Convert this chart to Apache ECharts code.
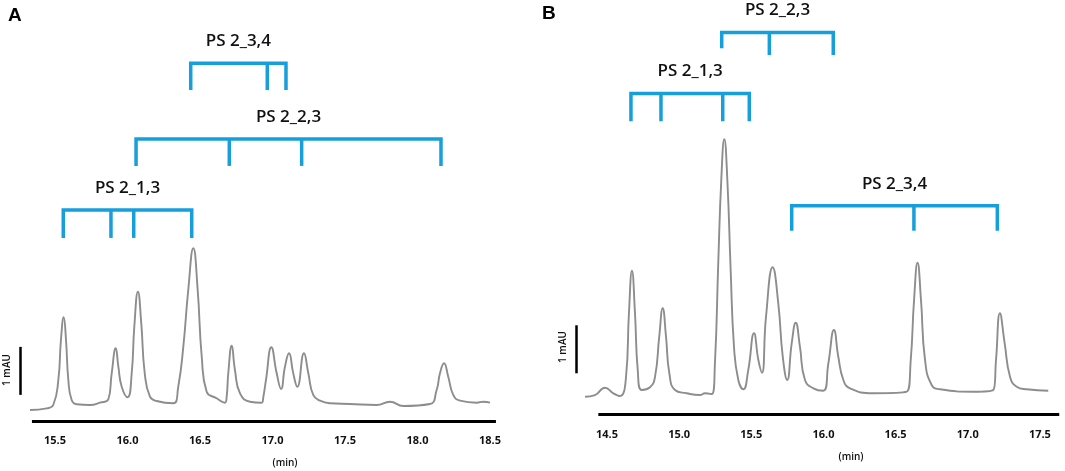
<!DOCTYPE html>
<html>
<head>
<meta charset="utf-8">
<script src="https://cdn.jsdelivr.net/npm/echarts@6/dist/echarts.min.js"></script>
<style>
  html, body { margin: 0; padding: 0; background: #fff; }
  #chart { width: 1065px; height: 471px; }
</style>
</head>
<body>
<div id="chart"></div>
<script>
// trace A: [time (min), signal (mAU)]
const traceA = [
  [15.328, -0.125], [15.443, -0.090], [15.488, -0.021], [15.523, 0.5], [15.541, 1.333],
  [15.560, 1.806], [15.576, 1.333], [15.592, 0.5], [15.615, 0.083], [15.650, -0.006],
  [15.741, -0.021], [15.810, 0.027], [15.868, 0.098], [15.891, 0.640], [15.919, 1.160],
  [15.937, 0.777], [15.960, 0.360], [16.001, 0.140], [16.029, 0.640], [16.047, 1.610],
  [16.072, 2.340], [16.095, 1.681], [16.119, 0.640], [16.155, 0.152], [16.201, 0.063],
  [16.316, 0.015], [16.350, 0.360], [16.385, 1.194], [16.419, 2.375], [16.454, 3.244],
  [16.484, 2.375], [16.512, 0.985], [16.546, 0.256], [16.615, 0.119], [16.672, 0.027],
  [16.684, 0.152], [16.695, 0.640], [16.719, 1.215], [16.741, 0.708], [16.776, 0.223],
  [16.845, 0.048], [16.926, 0.027], [16.937, 0.152], [16.955, 0.5], [16.992, 1.181],
  [17.029, 0.640], [17.059, 0.313], [17.086, 0.777], [17.114, 1.056], [17.143, 0.640],
  [17.171, 0.360], [17.217, 1.056], [17.247, 0.640], [17.281, 0.188], [17.328, 0.069],
  [17.397, 0.015], [17.534, 0], [17.719, -0.021], [17.810, 0.048], [17.902, -0.042],
  [18.086, 0], [18.132, 0.292], [18.155, 0.640], [18.183, 0.848], [18.212, 0.569],
  [18.247, 0.188], [18.293, 0.069], [18.408, 0.027], [18.454, 0.048], [18.500, 0.027]
];

// trace B
const traceB = [
  [14.348, -0.098], [14.417, -0.063], [14.486, 0.090], [14.544, -0.027], [14.590, -0.083],
  [14.632, 0.319], [14.652, 1.640], [14.673, 2.527], [14.694, 1.640], [14.713, 0.458],
  [14.740, 0.042], [14.798, 0.098], [14.833, 0.319], [14.862, 1.152], [14.886, 1.744],
  [14.909, 1.152], [14.932, 0.390], [14.971, 0.042], [15.052, -0.027], [15.144, -0.063],
  [15.179, -0.027], [15.226, -0.042], [15.248, 0.598], [15.271, 2.681], [15.292, 4.417],
  [15.313, 5.265], [15.334, 4.417], [15.357, 2.542], [15.380, 0.944], [15.410, 0.25],
  [15.445, 0.056], [15.479, 0.458], [15.519, 1.223], [15.549, 0.667], [15.574, 0.402],
  [15.602, 1.569], [15.648, 2.598], [15.687, 1.848], [15.718, 0.735], [15.749, 0.25],
  [15.780, 1.015], [15.808, 1.444], [15.837, 0.944], [15.872, 0.25], [15.930, 0.077],
  [15.999, 0.027], [16.034, 0.598], [16.073, 1.292], [16.103, 0.735], [16.138, 0.25],
  [16.184, 0.077], [16.345, -0.027], [16.577, 0.006], [16.605, 0.667], [16.628, 1.917],
  [16.652, 2.694], [16.676, 1.917], [16.704, 0.667], [16.750, 0.146], [16.808, 0.056],
  [17.038, 0.006], [17.177, 0.042], [17.196, 0.667], [17.223, 1.640], [17.256, 1.015],
  [17.293, 0.319], [17.339, 0.110], [17.408, 0.056], [17.558, 0.027]
];

// peak assignment brackets (retention times of the marked peaks)
const bracketNames = ['PS 2_1,3', 'PS 2_2,3', 'PS 2_3,4'];
const ticksA_13 = [15.557, 15.886, 16.043, 16.443];
const ticksA_23 = [16.059, 16.702, 17.201, 18.162];
const ticksA_34 = [16.436, 16.964, 17.093];
const ticksB_13 = [14.666, 14.874, 15.302, 15.486];
const ticksB_23 = [15.295, 15.625, 16.068];
const ticksB_34 = [15.780, 16.627, 17.205];

const xLabelsA = [15.5, 16.0, 16.5, 17.0, 17.5, 18.0, 18.5];
const xLabelsB = [14.5, 15.0, 15.5, 16.0, 16.5, 17.0, 17.5];

// layout (bracket heights in mAU, drop = tick length)
const bracketsA = [
  { name: bracketNames[0], ticks: ticksA_13, level: 4.04, drop: 0.58 },
  { name: bracketNames[1], ticks: ticksA_23, level: 5.52, drop: 0.56 },
  { name: bracketNames[2], ticks: ticksA_34, level: 7.10, drop: 0.56 }
];
const bracketsB = [
  { name: bracketNames[0], ticks: ticksB_13, level: 6.22, drop: 0.58 },
  { name: bracketNames[1], ticks: ticksB_23, level: 7.49, drop: 0.47, firstDrop: 0.33 },
  { name: bracketNames[2], ticks: ticksB_34, level: 3.88, drop: 0.52 }
];

const BLUE = '#179fdc';
const GREY = '#8d8d8d';

function bracketSeries(list, idx) {
  return {
    type: 'custom',
    xAxisIndex: idx,
    yAxisIndex: idx,
    silent: true,
    clip: false,
    data: list.map(b => [b.ticks[0], b.level]),
    renderItem: function(params, api) {
      let b = list[params.dataIndex];
      let n = b.ticks.length;
      let first = b.firstDrop != null ? b.firstDrop : b.drop;
      let p0 = api.coord([b.ticks[0], b.level - first]);
      let p1 = api.coord([b.ticks[0], b.level]);
      let p2 = api.coord([b.ticks[n - 1], b.level]);
      let p3 = api.coord([b.ticks[n - 1], b.level - b.drop]);
      let lineStyle = { stroke: BLUE, lineWidth: 3.5, fill: null };
      let children = [
        { type: 'polyline', shape: { points: [p0, p1, p2, p3] }, style: lineStyle }
      ];
      for (let i = 1; i < n - 1; i++) {
        let a = api.coord([b.ticks[i], b.level]);
        let c = api.coord([b.ticks[i], b.level - b.drop]);
        children.push({ type: 'line', shape: { x1: a[0], y1: a[1], x2: c[0], y2: c[1] }, style: lineStyle });
      }
      children.push({
        type: 'text',
        x: (p1[0] + p2[0]) / 2,
        y: p1[1] - 22,
        style: {
          text: b.name,
          font: '600 17px "Open Sans"',
          fill: '#111',
          align: 'center',
          verticalAlign: 'middle'
        }
      });
      return { type: 'group', children: children };
    }
  };
}

// axis bar and 1 mAU scale bar for each panel
function traceSeries(data, idx, bar, scale) {
  return {
    type: 'line',
    xAxisIndex: idx,
    yAxisIndex: idx,
    data: data,
    smooth: 0.5,
    showSymbol: false,
    silent: true,
    lineStyle: { color: GREY, width: 1.9 },
    markLine: {
      silent: true,
      symbol: 'none',
      label: { show: false },
      lineStyle: { color: '#000', type: 'solid' },
      data: [
        [{ coord: [bar[0], bar[2]], lineStyle: { width: 3 } }, { coord: [bar[1], bar[2]] }],
        [{ coord: [scale[0], scale[1]], lineStyle: { width: 2.5 } }, { coord: [scale[0], scale[1] + 1] }]
      ]
    }
  };
}

const chart = echarts.init(document.getElementById('chart'));

const xLabelStyle = {
  fontFamily: 'Open Sans',
  fontWeight: 'bold',
  fontSize: 11,
  color: '#111'
};

const option = {
  animation: false,
  backgroundColor: '#fff',
  grid: [
    { left: 10, top: 0, width: 486, height: 425 },
    { left: 560, top: 0, width: 499.3, height: 425 }
  ],
  xAxis: [
    {
      type: 'value', gridIndex: 0, min: 15.1897, max: 18.5414,
      splitLine: { show: false }, axisLine: { show: false }, axisTick: { show: false },
      axisLabel: Object.assign({ customValues: xLabelsA, margin: 10, formatter: v => v.toFixed(1) }, xLabelStyle)
    },
    {
      type: 'value', gridIndex: 1, min: 14.1743, max: 17.6345,
      splitLine: { show: false }, axisLine: { show: false }, axisTick: { show: false },
      axisLabel: Object.assign({ customValues: xLabelsB, margin: 4, formatter: v => v.toFixed(1) }, xLabelStyle)
    }
  ],
  yAxis: [
    { type: 'value', gridIndex: 0, min: -0.4375, max: 8.4167, show: false },
    { type: 'value', gridIndex: 1, min: -0.6875, max: 8.1667, show: false }
  ],
  series: [
    traceSeries(traceA, 0, [15.341, 18.541, -0.354], [15.259, 0.19]),
    traceSeries(traceB, 1, [14.44, 17.634, -0.458], [14.285, 0.39]),
    bracketSeries(bracketsA, 0),
    bracketSeries(bracketsB, 1)
  ],
  graphic: [
    { type: 'text', left: 8, top: 6, style: { text: 'A', font: 'bold 19px "Liberation Sans"', fill: '#000' } },
    { type: 'text', left: 542, top: 4, style: { text: 'B', font: 'bold 19px "Liberation Sans"', fill: '#000' } },
    { type: 'text', x: 285, y: 463, style: { text: '(min)', font: '600 10px "Open Sans"', fill: '#111', align: 'center', verticalAlign: 'middle' } },
    { type: 'text', x: 851, y: 457, style: { text: '(min)', font: '600 10px "Open Sans"', fill: '#111', align: 'center', verticalAlign: 'middle' } },
    { type: 'text', x: 7, y: 370, rotation: Math.PI / 2, style: { text: '1 mAU', font: '600 10px "Open Sans"', fill: '#111', align: 'center', verticalAlign: 'middle' } },
    { type: 'text', x: 563, y: 347, rotation: Math.PI / 2, style: { text: '1 mAU', font: '600 10px "Open Sans"', fill: '#111', align: 'center', verticalAlign: 'middle' } }
  ]
};

chart.setOption(option);
</script>
</body>
</html>
